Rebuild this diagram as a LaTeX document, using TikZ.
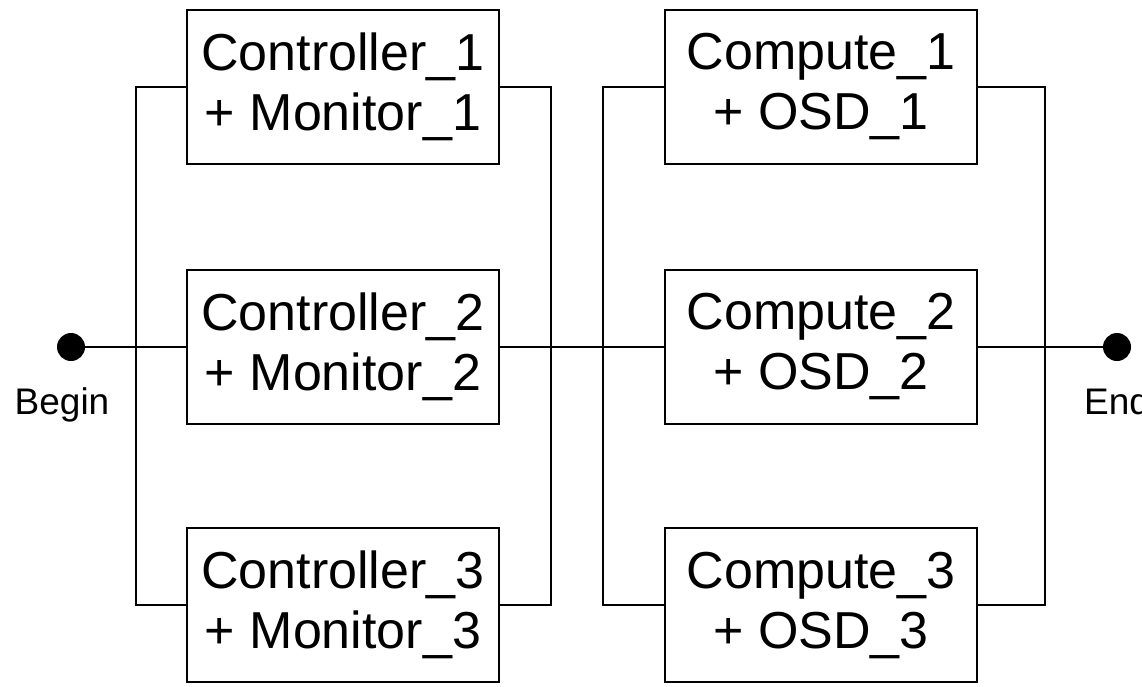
\documentclass[tikz,border=0pt]{standalone}
\usepackage{fontspec}
\setmainfont{Liberation Sans}
\begin{document}
\begin{tikzpicture}[x=1pt,y=-1pt,
  unit/.style={draw,line width=2.4pt,minimum width=312pt,minimum height=154pt,
    inner sep=0pt,align=center,font=\fontsize{52}{60}\selectfont},
  wire/.style={line width=2.4pt},
  terminal/.style={circle,fill=black,minimum size=28pt,inner sep=0pt},
  tlabel/.style={font=\fontsize{37}{40}\selectfont,anchor=base}]
\useasboundingbox (0,0) rectangle (1142,686);
% controller/monitor column
\node[unit] (c1) at (343,87) {Controller\_1\\+ Monitor\_1};
\node[unit] (c2) at (343,347) {Controller\_2\\+ Monitor\_2};
\node[unit] (c3) at (343,605) {Controller\_3\\+ Monitor\_3};
% compute/OSD column
\node[unit] (o1) at (821,87) {Compute\_1\\+ OSD\_1};
\node[unit] (o2) at (821,347) {Compute\_2\\+ OSD\_2};
\node[unit] (o3) at (821,605) {Compute\_3\\+ OSD\_3};
% end points
\node[terminal] (b) at (71,347) {};
\node[terminal] (e) at (1117,347) {};
\node[tlabel] (bl) at (62,414) {Begin};
\node[tlabel] (el) at (1117,414) {End};
% bus junctions
\coordinate (lt) at (136,87);  \coordinate (lb) at (136,605);
\coordinate (mt) at (551,87);  \coordinate (mb) at (551,605);
\coordinate (nt) at (603,87);  \coordinate (nb) at (603,605);
\coordinate (rt) at (1045,87); \coordinate (rb) at (1045,605);
% wiring
\draw[wire] (b) -- (c2.west);
\draw[wire] (c1.west) -- (lt) -- (lb) -- (c3.west);
\draw[wire] (c1.east) -- (mt) -- (mb) -- (c3.east);
\draw[wire] (c2.east) -- (o2.west);
\draw[wire] (o1.west) -- (nt) -- (nb) -- (o3.west);
\draw[wire] (o1.east) -- (rt) -- (rb) -- (o3.east);
\draw[wire] (o2.east) -- (e);
\end{tikzpicture}
\end{document}
